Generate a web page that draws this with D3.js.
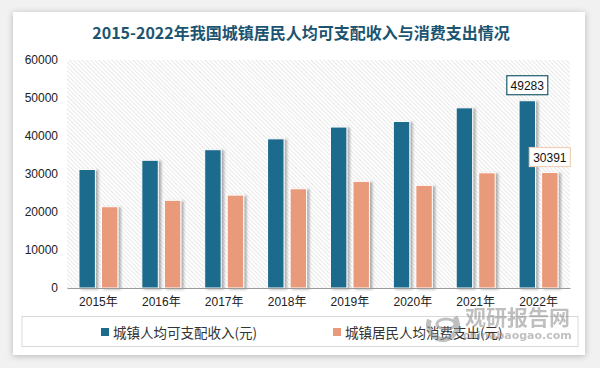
<!DOCTYPE html>
<html>
<head>
<meta charset="utf-8">
<script src="https://cdn.jsdelivr.net/npm/d3@7"></script>
<style>
  html, body { margin: 0; padding: 0; background: #f1f1f1; }
  svg { display: block; }
</style>
</head>
<body>
<svg id="chart" width="600" height="368"></svg>
<script>
// data
const years = ["2015年", "2016年", "2017年", "2018年", "2019年", "2020年", "2021年", "2022年"];
const income = [31195, 33616, 36396, 39251, 42359, 43834, 47412, 49283];
const spending = [21392, 23079, 24445, 26112, 28063, 27007, 30307, 30391];
const seriesNames = ["城镇人均可支配收入(元)", "城镇居民人均消费支出(元)"];
const yTicks = [0, 10000, 20000, 30000, 40000, 50000, 60000];

const colors = ["#1c6a8c", "#e99a7a"];
const font = "'Liberation Sans', Arial, 'Noto Sans CJK SC', sans-serif";

const svg = d3.select("#chart");
const defs = svg.append("defs");

// card shadow
const cs = defs.append("filter").attr("id", "cardShadow")
  .attr("x", "-5%").attr("y", "-5%").attr("width", "110%").attr("height", "110%");
cs.append("feDropShadow").attr("dx", 0).attr("dy", 1).attr("stdDeviation", 3)
  .attr("flood-color", "#000").attr("flood-opacity", 0.25);

// bar shadow
const bs = defs.append("filter").attr("id", "barShadow")
  .attr("x", "-30%").attr("y", "-10%").attr("width", "160%").attr("height", "120%");
bs.append("feDropShadow").attr("dx", 2.5).attr("dy", 1).attr("stdDeviation", 1.3)
  .attr("flood-color", "#555").attr("flood-opacity", 0.45);

// hatch pattern
const pat = defs.append("pattern").attr("id", "hatch")
  .attr("width", 3).attr("height", 3)
  .attr("patternUnits", "userSpaceOnUse")
  .attr("patternTransform", "rotate(-45)");
pat.append("rect").attr("width", 3).attr("height", 3).attr("fill", "#fff");
pat.append("line").attr("x1", 0).attr("y1", 0).attr("x2", 0).attr("y2", 3)
  .attr("stroke", "#d2d2d2").attr("stroke-width", 1);

// card
svg.append("rect")
  .attr("x", 13).attr("y", 12).attr("width", 572).attr("height", 343)
  .attr("fill", "#fff").attr("filter", "url(#cardShadow)");

// title
svg.append("text")
  .attr("x", 301).attr("y", 32)
  .attr("text-anchor", "middle").attr("dominant-baseline", "central")
  .attr("font-family", "'Noto Sans CJK SC', sans-serif")
  .attr("font-weight", "bold").attr("font-size", 16)
  .attr("fill", "#1b5470")
  .text("2015-2022年我国城镇居民人均可支配收入与消费支出情况");

const plot = { left: 67, right: 570, top: 60, bottom: 288 };

const x0 = d3.scaleBand().domain(years).range([plot.left, plot.right]);
const x1 = d3.scaleBand().domain([0, 1]).range([0, x0.bandwidth()])
  .paddingInner(0.27).paddingOuter(0.53);
const y = d3.scaleLinear().domain([0, 60000]).range([plot.bottom, plot.top]);

// plot background
svg.append("rect")
  .attr("x", plot.left).attr("y", plot.top)
  .attr("width", plot.right - plot.left).attr("height", plot.bottom - plot.top)
  .attr("fill", "url(#hatch)");

// y axis labels
const yAxis = svg.append("g")
  .attr("transform", `translate(${plot.left - 9},0)`)
  .call(d3.axisLeft(y).tickValues(yTicks).tickSize(0).tickPadding(0).tickFormat(d3.format("d")));
yAxis.select(".domain").remove();
yAxis.selectAll("text")
  .attr("font-family", font).attr("font-size", 12).attr("fill", "#222");

// bars
const table = years.map((yr, i) => ({ yr, vals: [income[i], spending[i]] }));
const groups = svg.append("g").selectAll("g")
  .data(table).join("g")
  .attr("transform", d => `translate(${x0(d.yr)},0)`);

groups.selectAll("rect")
  .data(d => d.vals.map((v, k) => ({ v, k })))
  .join("rect")
  .attr("x", d => x1(d.k))
  .attr("y", d => y(d.v))
  .attr("width", x1.bandwidth())
  .attr("height", d => y(0) - y(d.v))
  .attr("fill", d => colors[d.k])
  .attr("stroke", "#fff").attr("stroke-width", 1)
  .attr("filter", "url(#barShadow)");

// x axis
const xAxis = svg.append("g")
  .attr("transform", `translate(0,${plot.bottom})`)
  .call(d3.axisBottom(x0).tickSize(0).tickPadding(9));
xAxis.select(".domain").attr("stroke", "#9a9a9a").attr("stroke-width", 1.2);
xAxis.selectAll("text")
  .attr("font-family", font).attr("font-size", 12).attr("fill", "#222");

// data labels on last year
const last = years.length - 1;
const labelStyles = [
  { stroke: "#1e5a6e" },
  { stroke: "#f2cdb8" }
];
[income[last], spending[last]].forEach((v, k) => {
  const cx = x0(years[last]) + x1(k) + x1.bandwidth() / 2;
  const w = 41, h = 19;
  const top = y(v) - 6 - h;
  const g = svg.append("g");
  g.append("rect")
    .attr("x", cx - w / 2).attr("y", top).attr("width", w).attr("height", h)
    .attr("fill", "#fff").attr("stroke", labelStyles[k].stroke).attr("stroke-width", 1.2);
  g.append("text")
    .attr("x", cx).attr("y", top + h / 2 + 0.5)
    .attr("text-anchor", "middle").attr("dominant-baseline", "central")
    .attr("font-family", font).attr("font-size", 12).attr("fill", "#111")
    .text(v);
});

// legend
svg.append("rect")
  .attr("x", 22).attr("y", 316.5).attr("width", 556).attr("height", 30)
  .attr("fill", "none").attr("stroke", "#d9d9d9").attr("stroke-width", 1);

const legendX = [101, 333];
const leg = svg.append("g").selectAll("g")
  .data(seriesNames).join("g")
  .attr("transform", (d, i) => `translate(${legendX[i]},332)`);
leg.append("rect")
  .attr("x", 0).attr("y", -4).attr("width", 8).attr("height", 8)
  .attr("fill", (d, i) => colors[i]);
leg.append("text")
  .attr("x", 12).attr("y", 0)
  .attr("dominant-baseline", "central")
  .attr("font-family", "'Noto Sans CJK SC', sans-serif")
  .attr("font-size", 13.5).attr("fill", "#333")
  .text(d => d);

// watermark
const wm = svg.append("g").attr("opacity", 0.55).attr("fill", "#8c8c8c");
wm.append("path")
  .attr("d", d3.arc()({ innerRadius: 12, outerRadius: 17, startAngle: -1.2, endAngle: -5.3 }))
  .attr("transform", "translate(443,325)");
wm.append("ellipse").attr("cx", 446).attr("cy", 324).attr("rx", 9).attr("ry", 5)
  .attr("fill", "none").attr("stroke", "#8c8c8c").attr("stroke-width", 3);
wm.append("text").attr("x", 465).attr("y", 325)
  .attr("font-family", "'Noto Sans CJK SC', sans-serif").attr("font-weight", "bold")
  .attr("font-size", 21).text("观研报告网");
wm.append("text").attr("x", 463).attr("y", 339)
  .attr("font-family", "'DejaVu Sans', sans-serif").attr("font-weight", "bold")
  .attr("font-size", 11).text("chinabaogao.com");
</script>
</body>
</html>
